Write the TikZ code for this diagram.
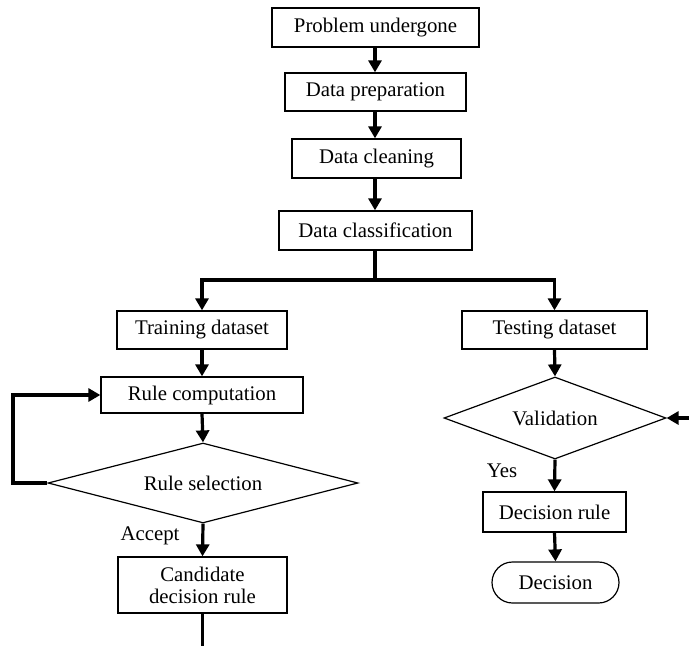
\documentclass[tikz,border=0pt]{standalone}
\usepackage{fontspec}
\setmainfont{Liberation Serif}
\usetikzlibrary{arrows.meta,shapes.geometric,shapes.misc}
\begin{document}
\begin{tikzpicture}[x=1pt,y=-1pt,
  font=\fontsize{20.8}{24}\selectfont,
  box/.style={draw,line width=1.3pt,inner sep=0pt,align=center},
  dia/.style={draw,diamond,line width=1.2pt,inner sep=0pt},
  term/.style={draw,rounded rectangle,line width=1.2pt,inner sep=0pt},
  conn/.style={line width=3.2pt,-{Triangle[length=12pt,width=13pt]}},
  plain/.style={line width=3.2pt},
  lbl/.style={inner sep=0pt}]
\useasboundingbox (0,0) rectangle (689,646);
\node[box,minimum width=207,minimum height=39] (pu) at (375.5,27.5) {Problem undergone};
\node[box,minimum width=181,minimum height=38] (dp) at (375.5,92) {Data preparation};
\node[box,minimum width=169,minimum height=39] (dcl) at (376.5,158.5) {Data cleaning};
\node[box,minimum width=193,minimum height=39] (dcf) at (375.5,230.5) {Data classification};
\node[box,minimum width=170,minimum height=38] (train) at (202,330) {Training dataset};
\node[box,minimum width=202,minimum height=36] (rc) at (202,395) {Rule computation};
\node[dia,minimum width=310,minimum height=80,aspect=3.875] (sel) at (203,483) {Rule selection};
\node[box,minimum width=169,minimum height=56] (cand) at (202.5,585) {Candidate\\[-2pt]decision rule};
\node[box,minimum width=185,minimum height=38] (test) at (554.5,330) {Testing dataset};
\node[dia,minimum width=222,minimum height=82,aspect=2.7] (val) at (555,418) {Validation};
\node[box,minimum width=143,minimum height=40] (dr) at (554.5,512) {Decision rule};
\node[term,minimum width=127,minimum height=41] (dec) at (555.5,582.5) {Decision};
\node[lbl] (acc) at (150,536) {Accept};
\node[lbl] (yes) at (502,471) {Yes};
\coordinate (split) at (375,280);
\coordinate (loopx) at (13,483);
\coordinate (bottomend) at (202.5,646);
\coordinate (rightin) at (689,418);
\draw[conn] (pu.south -| 375,0) -- (dp.north -| 375,0);
\draw[conn] (dp.south -| 375,0) -- (dcl.north -| 375,0);
\draw[conn] (dcl.south -| 375,0) -- (dcf.north -| 375,0);
\draw[plain] (dcf.south -| 375,0) -- (split);
\draw[conn] (split) -| (train.north);
\draw[conn] (split) -| (test.north);
\draw[conn] (train.south) -- (rc.north);
\draw[conn] (rc.south) -- (sel.north);
\draw[conn] (sel.west) -- (loopx) |- (rc.west);
\draw[conn] (sel.south) -- (cand.north);
\draw[plain] (cand.south) -- (bottomend);
\draw[conn] (test.south) -- (val.north);
\draw[conn] (rightin) -- (val.east);
\draw[conn] (val.south) -- (dr.north);
\draw[conn] (dr.south) -- (dec.north);
\end{tikzpicture}
\end{document}
